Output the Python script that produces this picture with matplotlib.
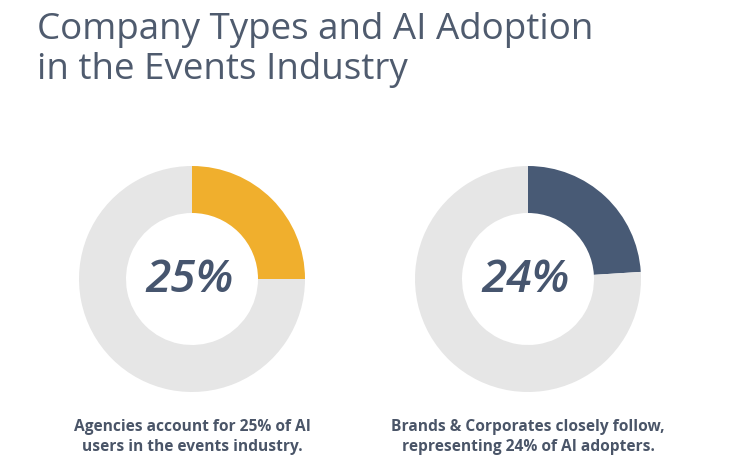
import matplotlib
matplotlib.use('Agg')
import matplotlib.pyplot as plt

# data
labels = ["Agencies", "Brands & Corporates"]
shares = [25, 24]
colors = ["#F0AF2D", "#485A75"]
rest_color = "#E6E6E6"
captions = ["Agencies account for 25% of AI\nusers in the events industry.",
            "Brands & Corporates closely follow,\nrepresenting 24% of AI adopters."]
title = "Company Types and AI Adoption\nin the Events Industry"

W, H = 756, 472
fig = plt.figure(figsize=(W / 100, H / 100), dpi=100)
ax = fig.add_axes([0, 0, 1, 1])

text_col = "#4A5568"
centers_x = [192, 528]
cy = H - 279
R = 113
ring = 47

for i, (s, c) in enumerate(zip(shares, colors)):
    ax.pie([s, 100 - s], colors=[c, rest_color], startangle=90, counterclock=False,
           center=(centers_x[i], cy), radius=R,
           wedgeprops=dict(width=ring, linewidth=0))
    ax.text(centers_x[i] - 2, cy - 2, f"{s}%", ha="center", va="center",
            fontsize=33, fontweight="semibold", fontstyle="italic",
            color="#46556E", family="Open Sans")
    ax.text(centers_x[i], H - 437, captions[i], ha="center", va="center",
            fontsize=11.2, fontweight="bold", color=text_col,
            family="Open Sans", linespacing=1.4)

ax.text(37, H - 50, title, ha="left", va="center", fontsize=26.5,
        color="#4F5B6E", family="Open Sans", linespacing=1.12)

ax.set_xlim(0, W)
ax.set_ylim(0, H)
ax.set_aspect("equal")
ax.axis("off")

fig.savefig("out.png", dpi=100, facecolor="white")
